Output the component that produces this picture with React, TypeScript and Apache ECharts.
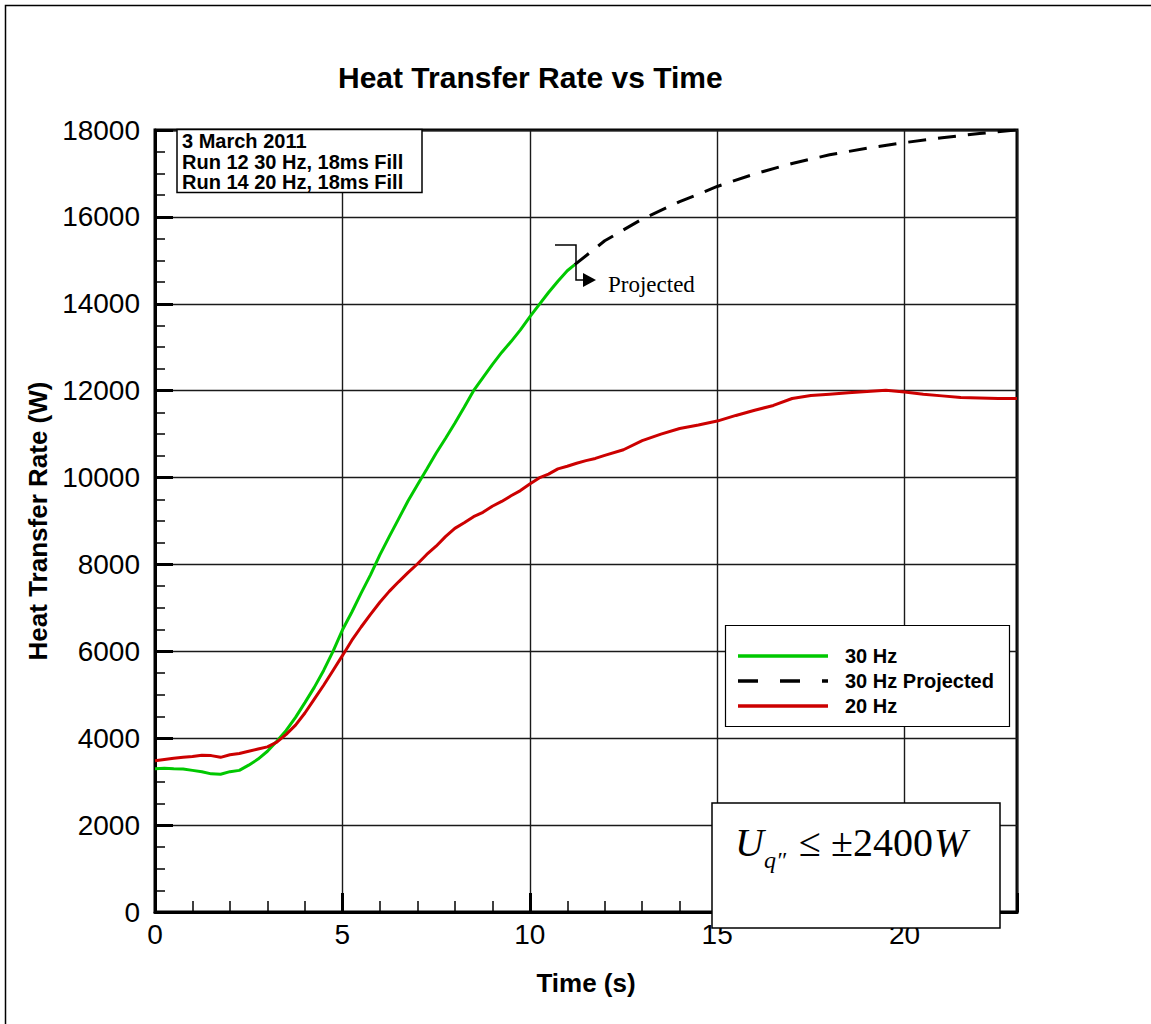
import React, { useEffect, useRef } from "react";
import * as echarts from "echarts";

// ---- Data ----
const time30 = [0, 0.25, 0.5, 0.75, 1, 1.25, 1.5, 1.75, 2, 2.25, 2.5, 2.75, 3, 3.25, 3.5, 3.75, 4, 4.25, 4.5, 4.75, 5, 5.25, 5.5, 5.75, 6, 6.25, 6.5, 6.75, 7, 7.25, 7.5, 7.75, 8, 8.25, 8.5, 8.75, 9, 9.25, 9.5, 9.75, 10, 10.25, 10.5, 10.75, 11, 11.2];
const hz30 = [3300, 3310, 3300, 3290, 3260, 3230, 3180, 3170, 3230, 3260, 3380, 3520, 3700, 3930, 4180, 4480, 4820, 5170, 5560, 6000, 6490, 6900, 7340, 7760, 8220, 8640, 9050, 9460, 9830, 10190, 10560, 10900, 11250, 11620, 12000, 12300, 12600, 12880, 13130, 13400, 13700, 13980, 14260, 14520, 14760, 14900];

const time20 = [0, 0.25, 0.5, 0.75, 1, 1.25, 1.5, 1.75, 2, 2.25, 2.5, 2.75, 3, 3.25, 3.5, 3.75, 4, 4.25, 4.5, 4.75, 5, 5.25, 5.5, 5.75, 6, 6.25, 6.5, 6.75, 7, 7.25, 7.5, 7.75, 8, 8.25, 8.5, 8.75, 9, 9.25, 9.5, 9.75, 10, 10.25, 10.5, 10.75, 11, 11.25, 11.5, 11.75, 12, 12.5, 13, 13.5, 14, 14.5, 15, 15.5, 16, 16.5, 17, 17.5, 18, 18.5, 19, 19.5, 20, 20.5, 21, 21.5, 22, 22.5, 23];
const hz20 = [3480, 3510, 3540, 3560, 3580, 3610, 3600, 3560, 3620, 3650, 3700, 3750, 3800, 3910, 4090, 4300, 4580, 4900, 5220, 5560, 5900, 6250, 6560, 6850, 7130, 7380, 7600, 7810, 8010, 8230, 8420, 8640, 8830, 8960, 9100, 9200, 9340, 9450, 9580, 9700, 9850, 9990, 10080, 10200, 10260, 10330, 10390, 10440, 10510, 10640, 10850, 11000, 11130, 11210, 11300, 11430, 11550, 11660, 11820, 11890, 11920, 11950, 11980, 12010, 11970, 11920, 11880, 11840, 11830, 11820, 11820];

const timeProj = [11.2, 12, 13, 14, 15, 16, 17, 18, 19, 20, 21, 22, 23];
const hz30Proj = [14900, 15450, 15950, 16350, 16700, 16990, 17230, 17430, 17580, 17710, 17820, 17920, 18000];

const seriesNames = ["30 Hz", "30 Hz Projected", "20 Hz"];
const seriesColors = ["#00c800", "#000000", "#cc0000"];
const seriesDash: any[] = ["solid", [18, 12], "solid"];
const noteLines = ["3 March 2011", "Run 12 30 Hz, 18ms Fill", "Run 14 20 Hz, 18ms Fill"];

const SANS = "Liberation Sans, Arial, sans-serif";
const SERIF = "Liberation Serif, Times New Roman, serif";

const zip = (xs: number[], ys: number[]) => xs.map((x, i) => [x, ys[i]]);

export default function App() {
  const ref = useRef<HTMLDivElement>(null);
  useEffect(() => {
    document.body.style.margin = "0";
    const chart = echarts.init(ref.current!, null, { renderer: "svg" });
    const legendGraphics: any[] = [];
    seriesNames.forEach((name, i) => {
      const y = 656 + i * 25;
      legendGraphics.push({
        type: "line",
        z: 6,
        shape: { x1: 738, y1: y, x2: 828, y2: y },
        style: {
          stroke: seriesColors[i],
          lineWidth: 3.5,
          lineDash: i === 1 ? [20, 22] : null,
        },
      });
      legendGraphics.push({
        type: "text",
        z: 6,
        x: 845,
        y: y,
        style: {
          text: name,
          font: `bold 20px ${SANS}`,
          fill: "#000",
          textAlign: "left",
          textVerticalAlign: "middle",
        },
      });
    });
    const option: any = {
      animation: false,
      backgroundColor: "#fff",
      title: {
        text: "Heat Transfer Rate vs Time",
        left: 338,
        top: 62,
        padding: 0,
        textStyle: { fontFamily: SANS, fontWeight: "bold", fontSize: 30, color: "#000" },
      },
      grid: {
        left: 155,
        top: 130,
        width: 862,
        height: 782,
        containLabel: false,
        outerBoundsMode: "none",
        show: true,
        borderColor: "#000",
        borderWidth: 3,
        backgroundColor: "transparent",
      },
      xAxis: {
        type: "value",
        min: 0,
        max: 23,
        interval: 5,
        name: "Time (s)",
        nameLocation: "middle",
        nameGap: 58,
        nameTextStyle: { fontFamily: SANS, fontWeight: "bold", fontSize: 26, color: "#000" },
        axisLine: { show: true, onZero: false, lineStyle: { color: "#000", width: 3 } },
        axisTick: { show: true, inside: true, length: 19, lineStyle: { color: "#000", width: 3 } },
        minorTick: { show: true, splitNumber: 5, length: 11, lineStyle: { color: "#000", width: 1.5 } },
        splitLine: { show: true, lineStyle: { color: "#1a1a1a", width: 1.4 } },
        axisLabel: { fontFamily: SANS, fontSize: 28, color: "#000", margin: 8, showMaxLabel: false },
      },
      yAxis: {
        type: "value",
        min: 0,
        max: 18000,
        interval: 2000,
        name: "Heat Transfer Rate (W)",
        nameLocation: "middle",
        nameGap: 102,
        nameTextStyle: { fontFamily: SANS, fontWeight: "bold", fontSize: 26, color: "#000" },
        axisLine: { show: true, onZero: false, lineStyle: { color: "#000", width: 3 } },
        axisTick: { show: true, inside: true, length: 18, lineStyle: { color: "#000", width: 3 } },
        minorTick: { show: true, splitNumber: 4, length: 10, lineStyle: { color: "#000", width: 1.5 } },
        splitLine: { show: true, lineStyle: { color: "#1a1a1a", width: 1.4 } },
        axisLabel: {
          fontFamily: SANS,
          fontSize: 28,
          color: "#000",
          margin: 15,
          formatter: (v: number) => String(v),
        },
      },
      series: [
        {
          name: seriesNames[0],
          type: "line",
          data: zip(time30, hz30),
          symbol: "none",
          lineStyle: { color: seriesColors[0], width: 3, type: seriesDash[0] },
          itemStyle: { color: seriesColors[0] },
          z: 3,
        },
        {
          name: seriesNames[1],
          type: "line",
          data: zip(timeProj, hz30Proj),
          symbol: "none",
          lineStyle: { color: seriesColors[1], width: 3, type: seriesDash[1] },
          itemStyle: { color: seriesColors[1] },
          z: 3,
        },
        {
          name: seriesNames[2],
          type: "line",
          data: zip(time20, hz20),
          symbol: "none",
          lineStyle: { color: seriesColors[2], width: 3, type: seriesDash[2] },
          itemStyle: { color: seriesColors[2] },
          z: 3,
        },
      ],
      graphic: [
        // outer frame
        {
          type: "rect",
          z: 1,
          silent: true,
          shape: { x: 5.5, y: 5.5, width: 1300, height: 1200 },
          style: { fill: "none", stroke: "#000", lineWidth: 1.5 },
        },
        // notes box
        {
          type: "rect",
          z: 5,
          shape: { x: 177, y: 129.5, width: 245, height: 63 },
          style: { fill: "#fff", stroke: "#000", lineWidth: 1.5 },
        },
        ...noteLines.map((t, i) => ({
          type: "text",
          z: 6,
          x: 182,
          y: 141 + i * 20.7,
          style: {
            text: t,
            font: `bold 20px ${SANS}`,
            fill: "#000",
            textAlign: "left",
            textVerticalAlign: "middle",
          },
        })),
        // legend box
        {
          type: "rect",
          z: 5,
          shape: { x: 725.5, y: 625.5, width: 284, height: 101 },
          style: { fill: "#fff", stroke: "#000", lineWidth: 1.2 },
        },
        ...legendGraphics,
        // projected arrow
        {
          type: "polyline",
          z: 6,
          shape: { points: [[555, 245], [576, 245], [576, 280], [585, 280]] },
          style: { fill: "none", stroke: "#000", lineWidth: 1.5 },
        },
        {
          type: "polygon",
          z: 6,
          shape: { points: [[583, 273], [596, 280], [583, 287]] },
          style: { fill: "#000" },
        },
        {
          type: "text",
          z: 6,
          x: 608,
          y: 284,
          style: { text: "Projected", font: `23px ${SERIF}`, fill: "#000", textAlign: "left", textVerticalAlign: "middle" },
        },
        // uncertainty box
        {
          type: "rect",
          z: 10,
          shape: { x: 712, y: 803, width: 288, height: 125 },
          style: { fill: "#fff", stroke: "#000", lineWidth: 1.5 },
        },
        {
          type: "text",
          z: 11,
          x: 735,
          y: 842,
          style: { text: "U", font: `italic 40px ${SERIF}`, fill: "#000", textAlign: "left", textVerticalAlign: "middle" },
        },
        {
          type: "text",
          z: 11,
          x: 764,
          y: 860,
          style: { text: "q\u2033", font: `italic 24px ${SERIF}`, fill: "#000", textAlign: "left", textVerticalAlign: "middle" },
        },
        {
          type: "text",
          z: 11,
          x: 799,
          y: 842,
          style: { text: "\u2264 \u00b12400", font: `40px ${SERIF}`, fill: "#000", textAlign: "left", textVerticalAlign: "middle" },
        },
        {
          type: "text",
          z: 11,
          x: 934,
          y: 842,
          style: { text: "W", font: `italic 40px ${SERIF}`, fill: "#000", textAlign: "left", textVerticalAlign: "middle" },
        },
      ],
    };
    chart.setOption(option);
    return () => chart.dispose();
  }, []);
  return <div ref={ref} style={{ width: 1151, height: 1024 }} />;
}
